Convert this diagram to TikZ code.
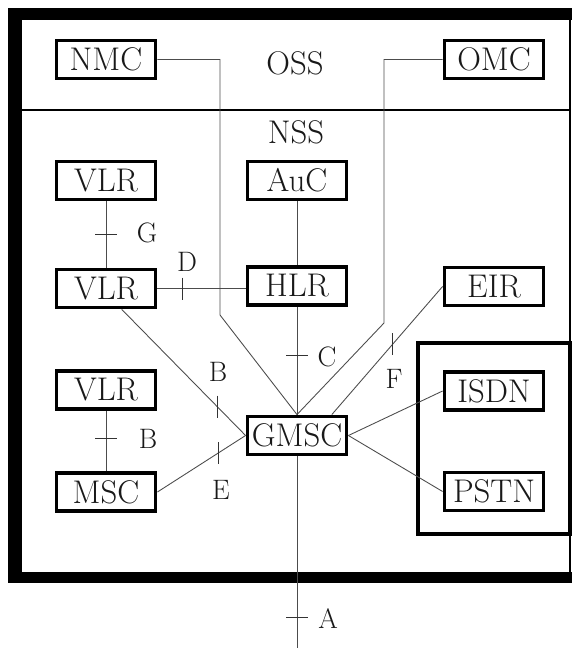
\documentclass[tikz,border=0pt]{standalone}
\usetikzlibrary{calc}

\newcommand{\boxLineWidth}{3pt}
\newcommand{\linkLineWidth}{0.75pt}
\newcommand{\frameLineWidth}{1.7pt}
\newcommand{\tickHalf}{11}
\newcommand{\boxFont}{\fontsize{28}{32}\selectfont}
\newcommand{\ifaceFont}{\fontsize{24}{28}\selectfont}

\begin{document}
\begin{tikzpicture}[x=0.03cm, y=-0.03cm,
        netbox/.style={draw, line width=\boxLineWidth, minimum width=2.98cm, minimum height=1.15cm, inner sep=0pt, font=\boxFont, text=black!90},
        sysname/.style={inner sep=0pt, font=\boxFont, text=black!90},
        link/.style={line width=\linkLineWidth, black!70},
        tickmark/.style={line width=\linkLineWidth, black!80},
        iface/.style={inner sep=0pt, font=\ifaceFont, text=black!90}]
        \useasboundingbox (0,0) rectangle (572,648);

        % Frame around OSS and NSS
        \fill (8,8) rectangle (572,20);
        \fill (8,8) rectangle (22,583);
        \fill (8,572) rectangle (572,583);
        \draw [line width=\frameLineWidth] (570,20) -- (570,572);
        \draw [line width=\frameLineWidth] (22,110) -- (570,110);

        % External networks
        \draw [line width=\boxLineWidth] (418,343) rectangle (570,534);

        % Subsystem names
        \node[sysname] (oss) at (295,63) {OSS};
        \node[sysname] (nss) at (296,132) {NSS};

        % Network elements
        \node[netbox] (nmc) at (106,59.5) {NMC};
        \node[netbox] (omc) at (494,59.5) {OMC};
        \node[netbox] (vlrA) at (106,180.5) {VLR};
        \node[netbox] (auc) at (297,180.5) {AuC};
        \node[netbox] (vlrB) at (106,288.5) {VLR};
        \node[netbox] (hlr) at (297,286) {HLR};
        \node[netbox] (eir) at (494,286.5) {EIR};
        \node[netbox] (vlrC) at (106,390) {VLR};
        \node[netbox] (isdn) at (494,391) {ISDN};
        \node[netbox] (gmsc) at (297,435.5) {GMSC};
        \node[netbox] (msc) at (106,492) {MSC};
        \node[netbox] (pstn) at (494,491.5) {PSTN};

        % Management links
        \coordinate (nmcDrop) at (220,315);
        \coordinate (omcDrop) at (384,323);
        \draw [link] (nmc.east) -| (nmcDrop) -- (gmsc.north);
        \draw [link] (omc.west) -| (omcDrop) -- (gmsc.north);

        % Interface G
        \draw [link] (vlrA) -- coordinate[pos=0.5] (tG) (vlrB);
        \draw [tickmark] ($(tG)+(-\tickHalf,0)$) -- ($(tG)+(\tickHalf,0)$);
        \node[iface] (lblG) at (147,233) {G};

        % Interface D
        \draw [link] (vlrB.east) -- coordinate[pos=0.28] (tD) (vlrB.east -| hlr.west);
        \draw [tickmark] ($(tD)+(0,-\tickHalf)$) -- ($(tD)+(0,\tickHalf)$);
        \node[iface] (lblD) at (187,262) {D};

        % AuC to HLR
        \draw [link] (auc) -- (hlr);

        % Interface C
        \draw [link] (hlr) -- coordinate[pos=0.45] (tC) (gmsc);
        \draw [tickmark] ($(tC)+(-\tickHalf,0)$) -- ($(tC)+(\tickHalf,0)$);
        \node[iface] (lblC) at (327,357) {C};

        % Interface B (VLR to GMSC)
        \draw [link] (vlrB.-53) -- coordinate[pos=0.77] (tB) (gmsc.west);
        \draw [tickmark] ($(tB)+(0,-\tickHalf)$) -- ($(tB)+(0,\tickHalf)$);
        \node[iface] (lblB) at (218,372) {B};

        % Interface B (VLR to MSC)
        \draw [link] (vlrC) -- coordinate[pos=0.45] (tBm) (msc);
        \draw [tickmark] ($(tBm)+(-\tickHalf,0)$) -- ($(tBm)+(\tickHalf,0)$);
        \node[iface] (lblBm) at (148,439) {B};

        % Interface E
        \draw [link] (msc.east) -- coordinate[pos=0.69] (tE) (gmsc.west);
        \draw [tickmark] ($(tE)+(0,-\tickHalf)$) -- ($(tE)+(0,\tickHalf)$);
        \node[iface] (lblE) at (221,490) {E};

        % Interface F
        \draw [link] (eir.west) -- coordinate[pos=0.45] (tF) (gmsc.31);
        \draw [tickmark] ($(tF)+(0,-\tickHalf)$) -- ($(tF)+(0,\tickHalf)$);
        \node[iface] (lblF) at (394,379) {F};

        % Fixed networks
        \draw [link] (gmsc.east) -- (isdn.west);
        \draw [link] (gmsc.east) -- (pstn.west);

        % Interface A
        \coordinate (aEnd) at (297,648);
        \draw [link] (gmsc) -- coordinate[pos=0.84] (tA) (aEnd);
        \draw [tickmark] ($(tA)+(-\tickHalf,0)$) -- ($(tA)+(\tickHalf,0)$);
        \node[iface] (lblA) at (328,619) {A};
    \end{tikzpicture}
\end{document}
